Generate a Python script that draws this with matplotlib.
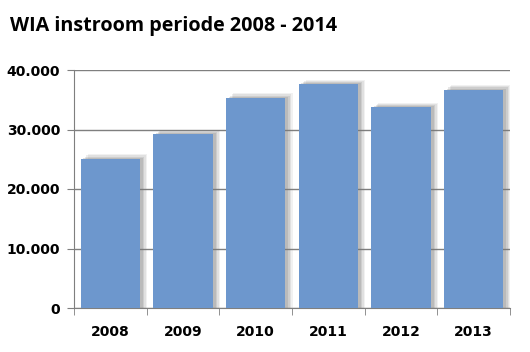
import numpy as np
import matplotlib.pyplot as plt
from matplotlib.ticker import FuncFormatter

jaren = ["2008", "2009", "2010", "2011", "2012", "2013"]
instroom = [25100, 29200, 35350, 37650, 33700, 36700]

W, H = 530, 352
fig = plt.figure(figsize=(W / 100, H / 100), dpi=100)
ax = fig.add_axes([74 / W, 44 / H, (510 - 74) / W, (308 - 70) / H])

x = np.arange(len(jaren))
breedte = 0.82

# zachte schaduw rechts van de balken
for i, (dx, a) in enumerate([(0.10, 0.10), (0.08, 0.14), (0.06, 0.18), (0.04, 0.22)]):
    ax.bar(x + dx, np.array(instroom) + 180 * (4 - i), width=breedte, color='#7a7a7a',
           alpha=a, linewidth=0, zorder=2)

ax.bar(x, instroom, width=breedte, color='#6d97cd', linewidth=0, zorder=3)

ax.set_xlim(-0.5, len(jaren) - 0.5)
ax.set_ylim(0, 40000)
ax.set_yticks(range(0, 40001, 10000))
ax.yaxis.set_major_formatter(FuncFormatter(lambda v, p: f"{int(v):,}".replace(",", ".")))
ax.grid(axis='y', color='#7f7f7f', linewidth=1.0, zorder=1)

ax.set_xticks(x)
ax.set_xticklabels(jaren)
ax.set_xticks(np.arange(-0.5, len(jaren)), minor=True)
ax.tick_params(axis='x', which='major', length=0, pad=12)
ax.tick_params(axis='x', which='minor', length=5, color='#7f7f7f', direction='out')
ax.tick_params(axis='y', length=5, color='#7f7f7f', pad=5)

for lbl in ax.get_xticklabels() + ax.get_yticklabels():
    lbl.set_fontweight('bold')
    lbl.set_fontsize(10)

for s in ['top', 'right']:
    ax.spines[s].set_visible(False)
for s in ['left', 'bottom']:
    ax.spines[s].set_color('#7f7f7f')

fig.text(10 / W, 1 - 26 / H, "WIA instroom periode 2008 - 2014", fontsize=14.2,
         fontweight='bold', family='Open Sans', va='center', ha='left')

fig.savefig("out.png", dpi=100)
